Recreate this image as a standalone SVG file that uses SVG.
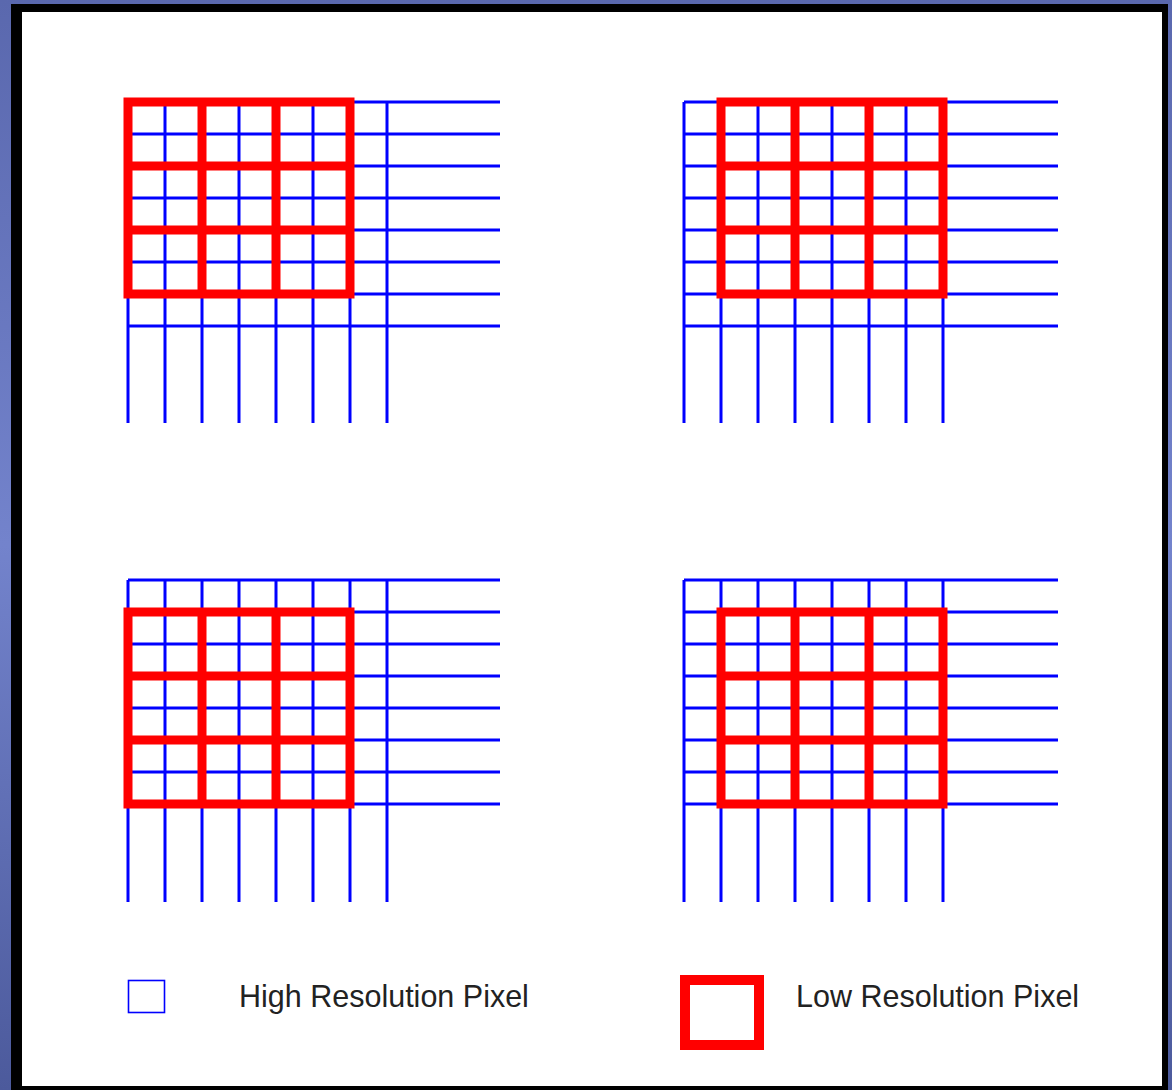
<svg xmlns="http://www.w3.org/2000/svg" width="1172" height="1090" viewBox="0 0 1172 1090">
<defs>
<linearGradient id="bg" x1="0" y1="0" x2="0" y2="1">
<stop offset="0" stop-color="#5a68ae"/>
<stop offset="0.5" stop-color="#7383cc"/>
<stop offset="1" stop-color="#4c5a9c"/>
</linearGradient>
</defs>
<style>
.hi{fill:none;stroke:#0000ff;stroke-width:3;stroke-linecap:butt}
.lo{fill:none;stroke:#ff0000;stroke-width:9;stroke-linejoin:miter}
.lbl{font-family:"Liberation Sans",Arial,sans-serif;font-size:30.5px;fill:#222}
</style>
<rect x="0" y="0" width="1172" height="1090" fill="url(#bg)"/>
<rect x="11" y="4" width="1157" height="1095" fill="#000"/>
<rect x="22" y="12" width="1140" height="1074" fill="#fff"/>

<g id="grid-top-left">
<path class="hi" d="M128 102V423M165 102V423M202 102V423M239 102V423M276 102V423M313 102V423M350 102V423M387 102V423M128 102H500M128 134H500M128 166H500M128 198H500M128 230H500M128 262H500M128 294H500M128 326H500"/>
<path class="lo" d="M128 102H350V294H128ZM202 102V294M276 102V294M128 166H350M128 230H350"/>
</g>

<g id="grid-top-right">
<path class="hi" d="M684 102V423M721 102V423M758 102V423M795 102V423M832 102V423M869 102V423M906 102V423M943 102V423M684 102H1058M684 134H1058M684 166H1058M684 198H1058M684 230H1058M684 262H1058M684 294H1058M684 326H1058"/>
<path class="lo" d="M721 102H943V294H721ZM795 102V294M869 102V294M721 166H943M721 230H943"/>
</g>

<g id="grid-bottom-left">
<path class="hi" d="M128 580V902M165 580V902M202 580V902M239 580V902M276 580V902M313 580V902M350 580V902M387 580V902M128 580H500M128 612H500M128 644H500M128 676H500M128 708H500M128 740H500M128 772H500M128 804H500"/>
<path class="lo" d="M128 612H350V804H128ZM202 612V804M276 612V804M128 676H350M128 740H350"/>
</g>

<g id="grid-bottom-right">
<path class="hi" d="M684 580V902M721 580V902M758 580V902M795 580V902M832 580V902M869 580V902M906 580V902M943 580V902M684 580H1058M684 612H1058M684 644H1058M684 676H1058M684 708H1058M684 740H1058M684 772H1058M684 804H1058"/>
<path class="lo" d="M721 612H943V804H721ZM795 612V804M869 612V804M721 676H943M721 740H943"/>
</g>

<g id="legend-high">
<rect x="128.5" y="980.5" width="36" height="32" fill="none" stroke="#0000ff" stroke-width="1.6"/>
<text class="lbl" x="239" y="1007">High Resolution Pixel</text>
</g>
<g id="legend-low">
<rect x="685" y="980" width="74" height="65" fill="none" stroke="#ff0000" stroke-width="10"/>
<text class="lbl" x="796" y="1007">Low Resolution Pixel</text>
</g>
</svg>
